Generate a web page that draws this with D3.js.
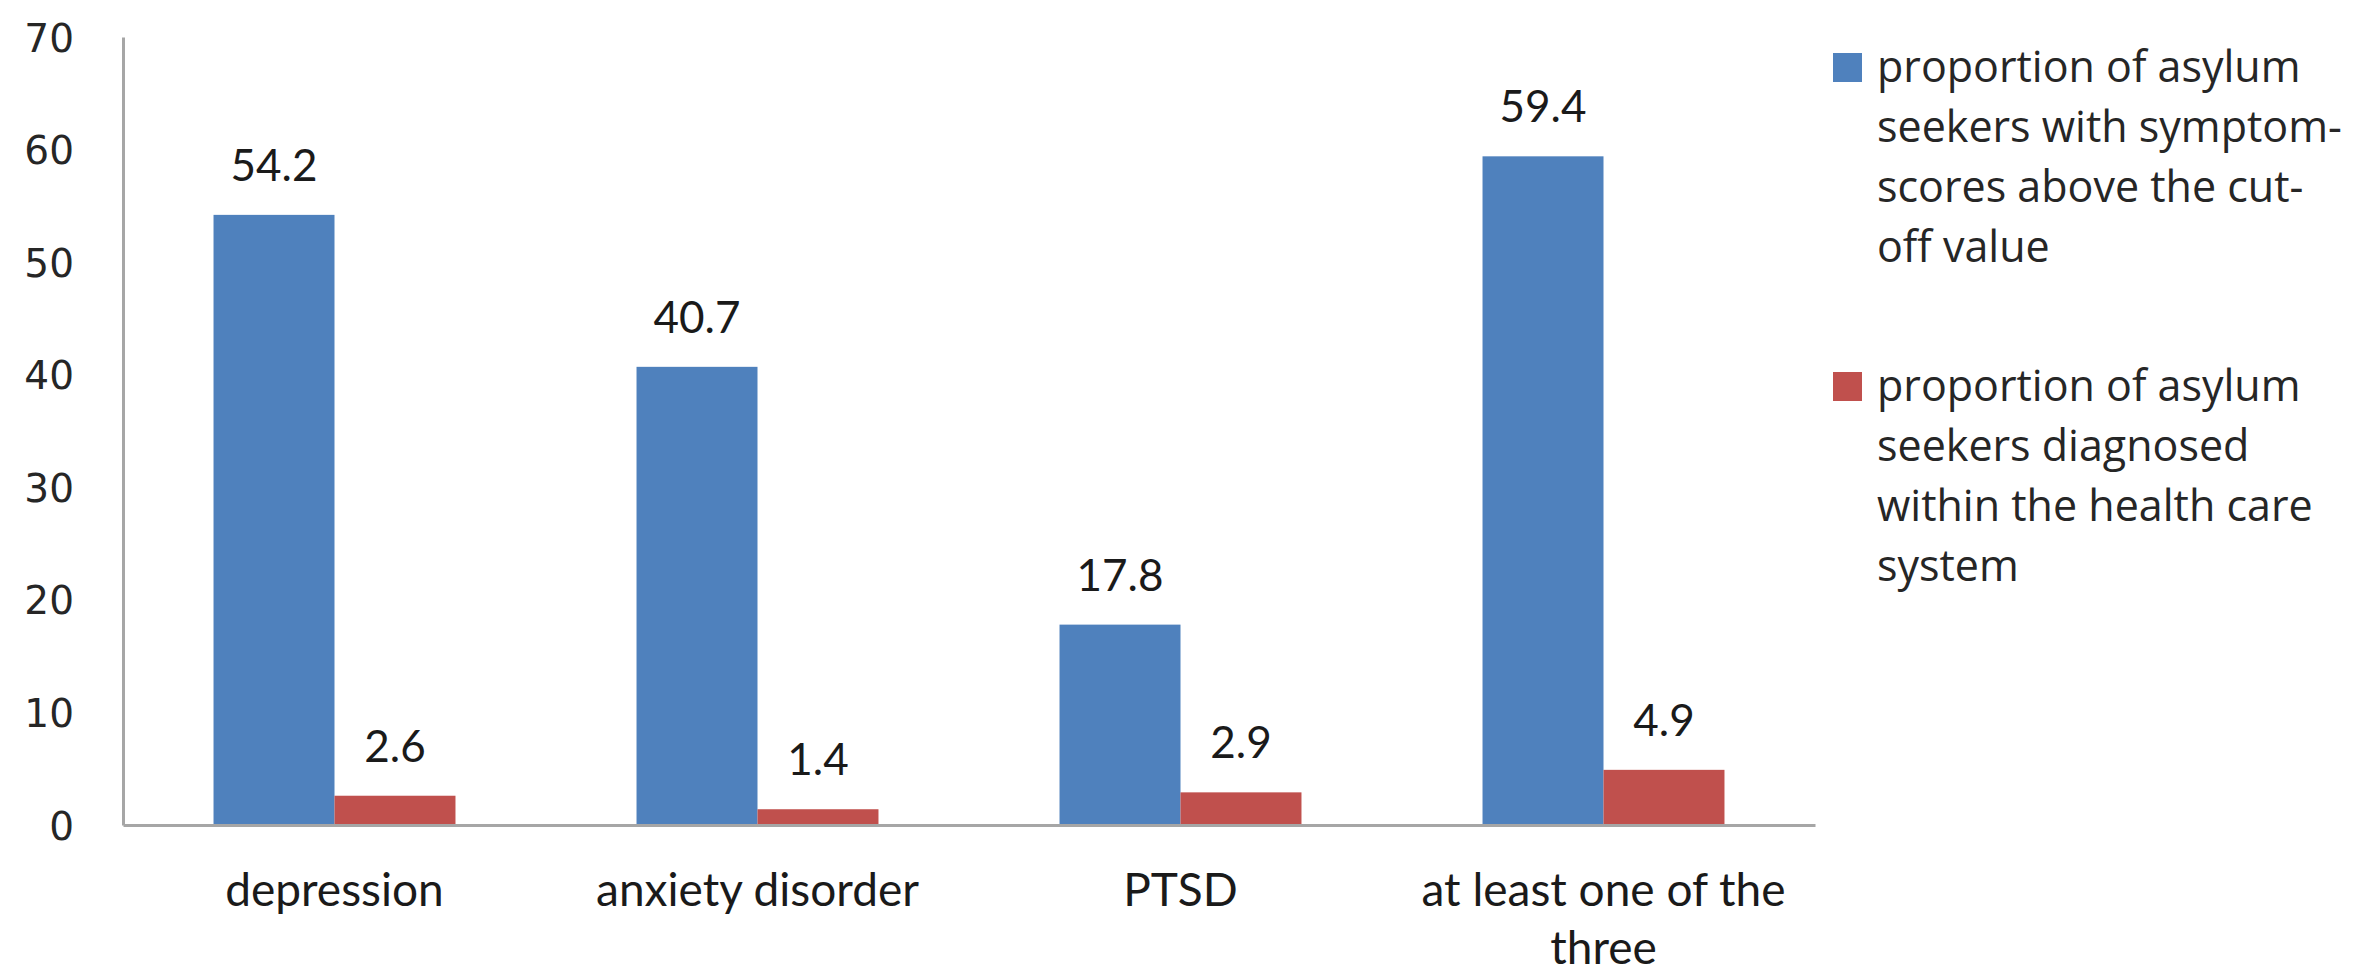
<!DOCTYPE html>
<html>
<head>
<meta charset="utf-8">
<script src="https://cdn.jsdelivr.net/npm/d3@7"></script>
<style>
  html, body { margin: 0; padding: 0; background: #ffffff; }
  svg { display: block; }
</style>
</head>
<body>
<svg id="chart" width="2359" height="970"></svg>
<script>
// Categories (x axis), each label split into its display lines
const categories = ["depression", "anxiety disorder", "PTSD", "at least one of the three"];
const categoryLines = [["depression"], ["anxiety disorder"], ["PTSD"], ["at least one of the", "three"]];

// Series
const seriesKeys = ["symptoms", "diagnosed"];
const symptomScores = [54.2, 40.7, 17.8, 59.4];
const diagnosedValues = [2.6, 1.4, 2.9, 4.9];

// Y axis ticks
const yTicks = [0, 10, 20, 30, 40, 50, 60, 70];

// Legend text, one array of lines per series
const legendLines = [
  ["proportion of asylum", "seekers with symptom-", "scores above the cut-", "off value"],
  ["proportion of asylum", "seekers diagnosed", "within the health care", "system"]
];

const colors = { symptoms: "#4F81BD", diagnosed: "#C0504D" };

const svg = d3.select("#chart");

const plot = { left: 123, right: 1815, top: 37, bottom: 825 };

const x0 = d3.scaleBand()
  .domain(categories)
  .range([plot.left, plot.right])
  .paddingInner(0.428)
  .paddingOuter(0.214);

const x1 = d3.scaleBand()
  .domain(seriesKeys)
  .range([0, x0.bandwidth()]);

const y = d3.scaleLinear()
  .domain([0, 70])
  .range([plot.bottom, plot.top]);

const rows = categories.map((c, i) => ({
  category: c,
  values: [
    { key: "symptoms", value: symptomScores[i] },
    { key: "diagnosed", value: diagnosedValues[i] }
  ]
}));

// Y axis
const yAxis = svg.append("g")
  .attr("transform", `translate(${plot.left},0)`)
  .call(d3.axisLeft(y).tickValues(yTicks).tickSize(0).tickSizeOuter(0).tickPadding(49));
yAxis.select(".domain").attr("stroke", "#a6a6a6").attr("stroke-width", 3);
yAxis.selectAll("text")
  .attr("font-family", "'DejaVu Sans', sans-serif")
  .attr("font-size", 39)
  .attr("fill", "#262626")
  .attr("dy", "0.36em");

// Bars
const groups = svg.append("g").selectAll("g")
  .data(rows)
  .join("g")
  .attr("transform", d => `translate(${x0(d.category)},0)`);

groups.selectAll("rect")
  .data(d => d.values)
  .join("rect")
  .attr("x", d => x1(d.key))
  .attr("y", d => y(d.value))
  .attr("width", x1.bandwidth())
  .attr("height", d => y(0) - y(d.value))
  .attr("fill", d => colors[d.key]);

// Value labels
groups.selectAll("text.value")
  .data(d => d.values)
  .join("text")
  .attr("class", "value")
  .attr("x", d => x1(d.key) + x1.bandwidth() / 2)
  .attr("y", d => y(d.value) - 34)
  .attr("text-anchor", "middle")
  .attr("font-family", "Lato, sans-serif")
  .attr("font-size", 44)
  .attr("fill", "#1a1a1a")
  .text(d => d.value.toFixed(1));

// X axis baseline
const xAxis = svg.append("g")
  .attr("transform", `translate(0,${plot.bottom})`)
  .call(d3.axisBottom(x0).tickSize(0).tickSizeOuter(0).tickFormat(""));
xAxis.select(".domain").attr("stroke", "#a6a6a6").attr("stroke-width", 3);

// Category labels
const catLabels = svg.append("g").selectAll("text")
  .data(categories)
  .join("text")
  .attr("x", d => x0(d) + x0.bandwidth() / 2)
  .attr("y", 906)
  .attr("text-anchor", "middle")
  .attr("font-family", "Lato, sans-serif")
  .attr("font-size", 46)
  .attr("fill", "#1a1a1a");
catLabels.selectAll("tspan")
  .data((d, i) => categoryLines[i])
  .join("tspan")
  .attr("x", function () { return d3.select(this.parentNode).attr("x"); })
  .attr("dy", (d, i) => i === 0 ? 0 : 58)
  .text(d => d);

// Legend
const legendTops = [53, 372];
const legend = svg.append("g");
seriesKeys.forEach((key, i) => {
  const g = legend.append("g").attr("transform", `translate(1833,${legendTops[i]})`);
  g.append("rect")
    .attr("width", 29)
    .attr("height", 29)
    .attr("fill", colors[key]);
  g.append("text")
    .attr("font-family", "'Open Sans', sans-serif")
    .attr("font-size", 43)
    .attr("fill", "#262626")
    .selectAll("tspan")
    .data(legendLines[i])
    .join("tspan")
    .attr("x", 44)
    .attr("y", (d, j) => 29 + j * 60)
    .text(d => d);
});
</script>
</body>
</html>
